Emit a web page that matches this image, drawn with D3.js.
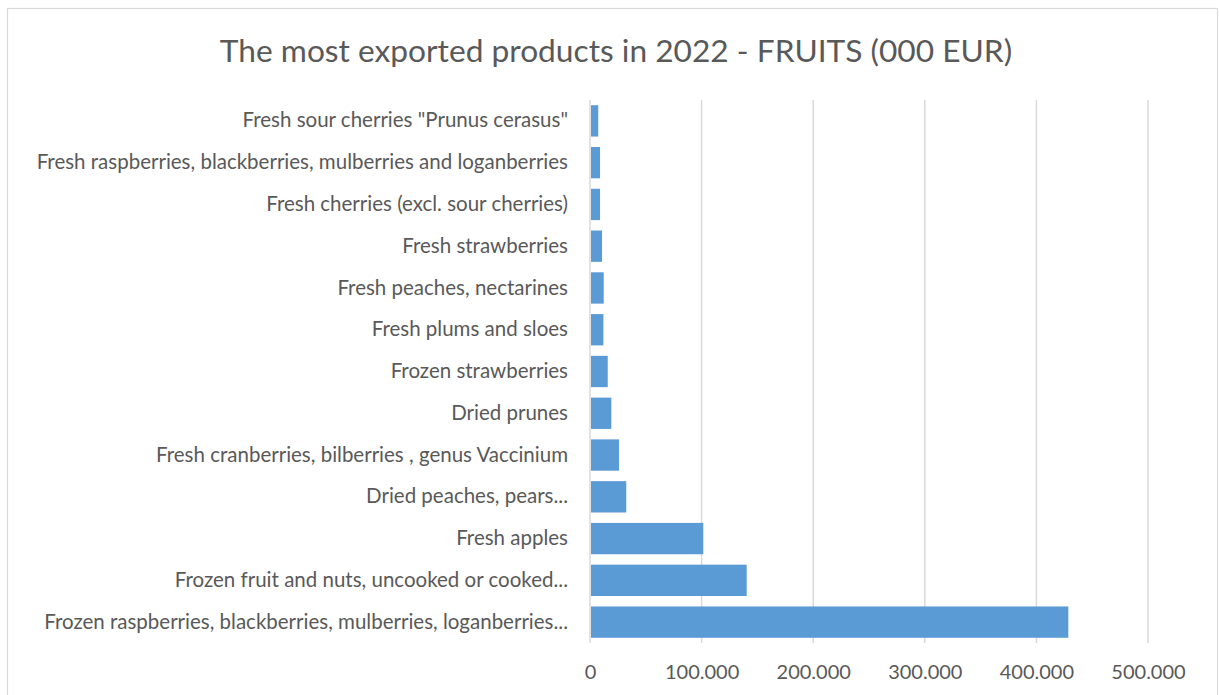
<!DOCTYPE html>
<html>
<head>
<meta charset="utf-8">
<script src="https://cdn.jsdelivr.net/npm/d3@7"></script>
<style>
  body { margin: 0; background: #fff; }
  svg text { font-family: Lato, "Open Sans", sans-serif; fill: #595959; }
</style>
</head>
<body>
<div id="chart-area"></div>
<script>
// data, top row first
var products = [
    "Fresh sour cherries \"Prunus  cerasus\"",
    "Fresh raspberries, blackberries, mulberries and loganberries",
    "Fresh cherries (excl. sour cherries)",
    "Fresh strawberries",
    "Fresh peaches, nectarines",
    "Fresh plums and sloes",
    "Frozen strawberries",
    "Dried prunes",
    "Fresh cranberries, bilberries , genus Vaccinium",
    "Dried peaches, pears...",
    "Fresh apples",
    "Frozen fruit and nuts, uncooked or cooked...",
    "Frozen raspberries, blackberries,  mulberries, loganberries..."
];
var exportValues = [7400, 9000, 9000, 10800, 12300, 12000, 15900, 19100, 26000, 32500, 101500, 140400, 428600];
var tickValues = [0, 100000, 200000, 300000, 400000, 500000];
var chartTitle = "The most exported products in 2022 - FRUITS (000 EUR)";

var W = 1219, H = 695;
var margin = { left: 590, right: 71, top: 100, bottom: 52 };
var width = W - margin.left - margin.right;
var height = H - margin.top - margin.bottom;

var svg = d3.select("#chart-area")
    .append("svg")
    .attr("width", W)
    .attr("height", H);

// outer frame
svg.append("rect")
    .attr("x", 7.5)
    .attr("y", 8.5)
    .attr("width", 1210)
    .attr("height", 700)
    .attr("fill", "none")
    .attr("stroke", "#d9d9d9")
    .attr("stroke-width", 1.2);

svg.append("text")
    .attr("x", 616)
    .attr("y", 62)
    .attr("text-anchor", "middle")
    .attr("font-size", "31.7px")
    .text(chartTitle);

var g = svg.append("g")
    .attr("transform", "translate(" + margin.left + "," + margin.top + ")");

var x = d3.scaleLinear().domain([0, 500000]).range([0, width]);
var y = d3.scaleBand().domain(products).range([0, height]).paddingInner(0.25).paddingOuter(0.125);

var fmt = function(d) { return d3.format(",")(d).replace(/,/g, "."); };

// gridlines
g.selectAll(".grid")
    .data(tickValues)
    .enter().append("line")
    .attr("class", "grid")
    .attr("x1", function(d) { return x(d); })
    .attr("x2", function(d) { return x(d); })
    .attr("y1", 0)
    .attr("y2", height)
    .attr("stroke", "#d9d9d9")
    .attr("stroke-width", 1.5);

// bars
g.selectAll(".bar")
    .data(exportValues)
    .enter().append("rect")
    .attr("class", "bar")
    .attr("x", x(0) + 1)
    .attr("y", function(d, i) { return y(products[i]); })
    .attr("width", function(d) { return x(d) - x(0) - 1; })
    .attr("height", y.bandwidth())
    .attr("fill", "#5b9bd5");

// x axis
var xAxis = g.append("g")
    .attr("transform", "translate(0," + height + ")")
    .call(d3.axisBottom(x).tickValues(tickValues).tickFormat(fmt).tickSize(0).tickPadding(22));
xAxis.select(".domain").remove();
xAxis.selectAll("text")
    .attr("font-size", "20px")
    .attr("fill", "#595959");

// y axis labels
var yAxis = g.append("g")
    .call(d3.axisLeft(y).tickSize(0).tickPadding(22));
yAxis.select(".domain").remove();
yAxis.selectAll("text")
    .attr("font-size", "20.5px")
    .attr("fill", "#595959");
</script>
</body>
</html>
